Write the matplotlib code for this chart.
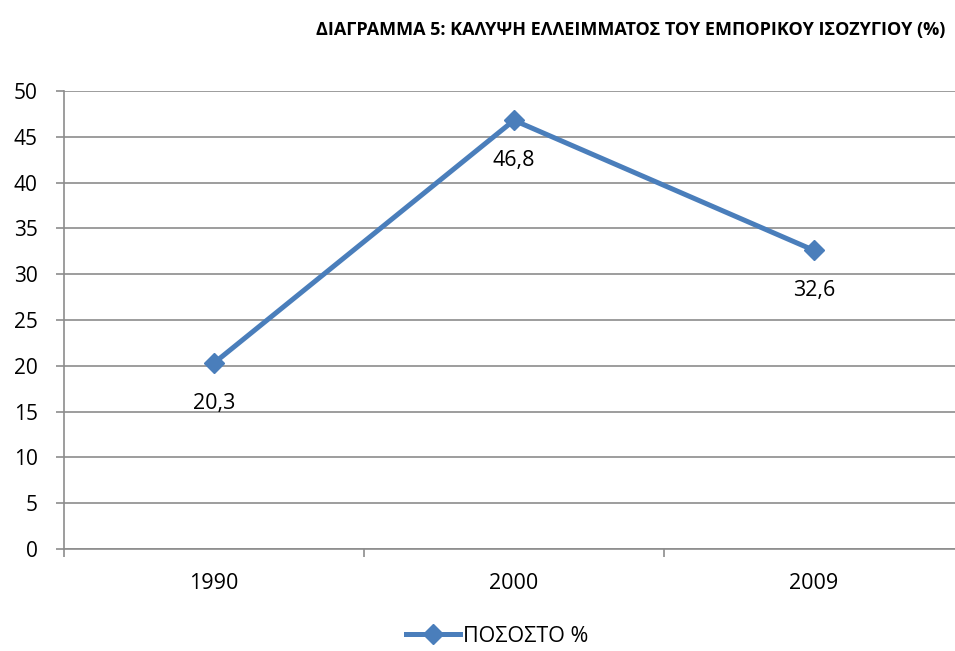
import matplotlib.pyplot as plt

plt.rcParams['font.family'] = ['Open Sans', 'DejaVu Sans']

years = ['1990', '2000', '2009']
values = [20.3, 46.8, 32.6]
value_labels = ['20,3', '46,8', '32,6']
series_name = 'ΠΟΣΟΣΤΟ %'
title = 'ΔΙΑΓΡΑΜΜΑ 5: ΚΑΛΥΨΗ ΕΛΛΕΙΜΜΑΤΟΣ ΤΟΥ ΕΜΠΟΡΙΚΟΥ ΙΣΟΖΥΓΙΟΥ (%)'

blue = '#4A7EBB'
grid_gray = '#8C8C8C'

fig = plt.figure(figsize=(9.55, 6.51), dpi=100)
ax = fig.add_axes([64 / 955, 102 / 651, 900 / 955, 458 / 651])

x = list(range(len(years)))
line, = ax.plot(x, values, color=blue, linewidth=3.6, marker='D',
                markersize=10, markerfacecolor=blue, markeredgecolor=blue,
                label=series_name, zorder=3)

for xi, v, lab in zip(x, values, value_labels):
    ax.annotate(lab, (xi, v), xytext=(0, -29), textcoords='offset points',
                ha='center', va='center', fontsize=15.5)

ax.set_xlim(-0.5, len(years) - 0.5)
ax.set_ylim(0, 50)
ax.set_yticks(range(0, 51, 5))
ax.yaxis.grid(True, color=grid_gray, linewidth=1.2)
ax.set_axisbelow(True)

ax.set_xticks(x)
ax.set_xticklabels(years, fontsize=15.5)
ax.set_xticks([i - 0.5 for i in range(len(years) + 1)], minor=True)
ax.tick_params(axis='x', which='major', length=0, pad=17)
ax.tick_params(axis='x', which='minor', length=6, color=grid_gray, width=1.2)
ax.tick_params(axis='y', length=6, color=grid_gray, width=1.2, labelsize=15, pad=13)

for side in ['top', 'right']:
    ax.spines[side].set_visible(False)
for side in ['left', 'bottom']:
    ax.spines[side].set_color(grid_gray)
    ax.spines[side].set_linewidth(1.2)

fig.text(945 / 955, 1 - 30 / 651, title, ha='right', va='center',
         fontsize=13, fontweight='bold')

fig.legend(handles=[line], loc='center', bbox_to_anchor=(0.521, 1 - 636 / 651),
           frameon=False, fontsize=15.5, handlelength=2.5, handletextpad=0.15)

fig.savefig('out.png', dpi=100)
